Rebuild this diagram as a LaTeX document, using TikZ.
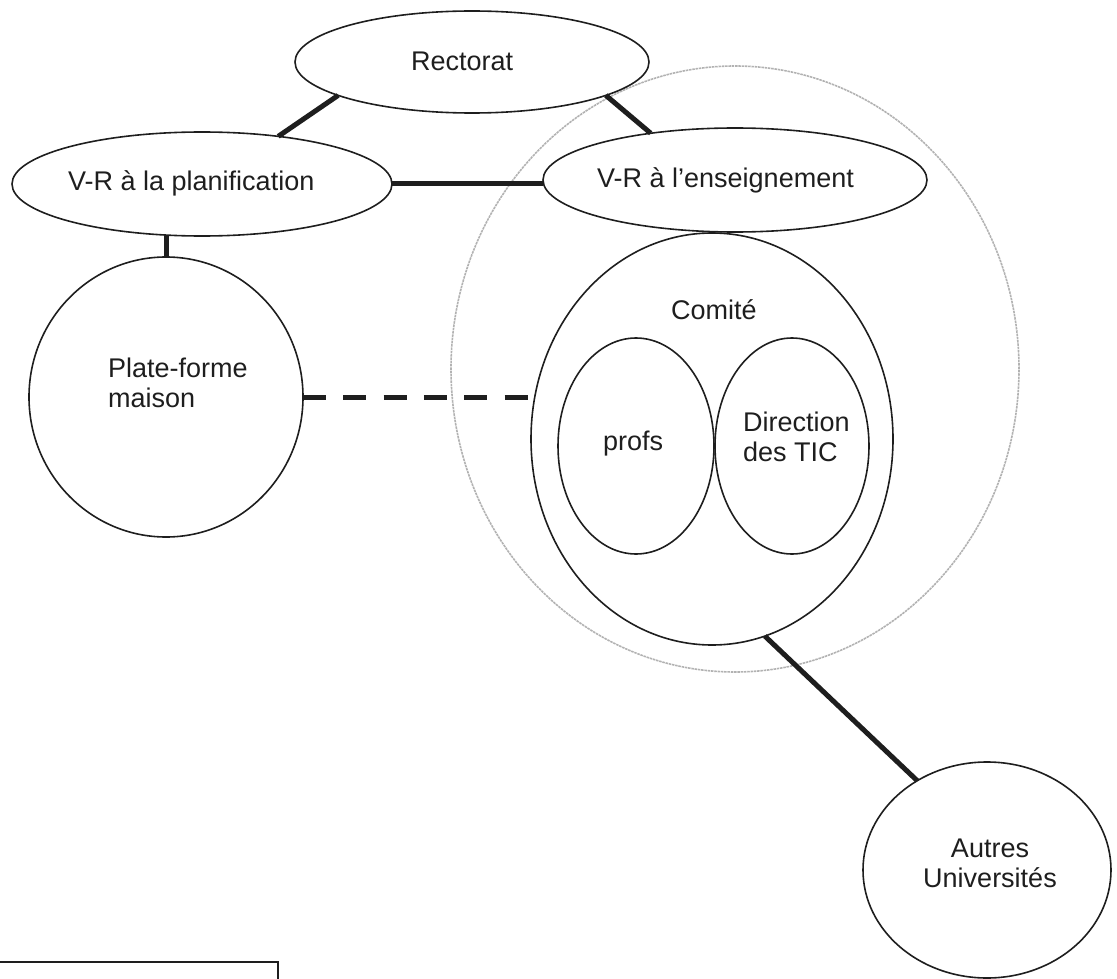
\documentclass[tikz,border=0pt]{standalone}
\usepackage{fontspec}
\setmainfont{Liberation Sans}
\usetikzlibrary{shapes.geometric}
\definecolor{ink}{HTML}{1E1E1E}
\definecolor{haze}{HTML}{B2B2B2}
\begin{document}
\begin{tikzpicture}[x=1pt,y=-1pt,
  oval/.style={ellipse, draw=ink, line width=1.6pt, inner sep=0pt, outer sep=0pt},
  lbl/.style={anchor=base west, inner sep=0pt, text=ink, font=\fontsize{27}{31}\selectfont},
  lblc/.style={lbl, anchor=base},
  link/.style={draw=ink, line width=5pt},
  dlink/.style={link, dash pattern=on 23pt off 17.3pt},
]
\useasboundingbox (0,0) rectangle (1117,979);
\clip (0,0) rectangle (1117,979);
% grey zone
\node[ellipse, draw=haze, line width=1.6pt, dash pattern=on 2.5pt off 0.8pt, minimum width=568pt, minimum height=606pt, inner sep=0pt] (zone) at (735,369) {};
% nodes
\node[oval, minimum width=354pt, minimum height=102pt] (rect) at (472,62) {};
\node[oval, minimum width=380pt, minimum height=104pt] (planif) at (202,184) {};
\node[oval, minimum width=384pt, minimum height=104pt] (ens) at (735,180) {};
\node[oval, minimum width=274pt, minimum height=280pt] (pf) at (166,397) {};
\node[oval, minimum width=362pt, minimum height=412pt] (comite) at (712,439) {};
\node[oval, minimum width=156pt, minimum height=216pt] (profs) at (636,446) {};
\node[oval, minimum width=154pt, minimum height=216pt] (dtic) at (792,446) {};
\node[oval, minimum width=248pt, minimum height=216pt] (autres) at (987,870) {};
% labels
\node[lbl] (tRect) at (411,71) {Rectorat};
\node[lbl] (tPlanif) at (68,190) {V-R à la planification};
\node[lbl] (tEns) at (597,188) {V-R à l'enseignement};
\node[lbl] (tPf1) at (108,377) {Plate-forme};
\node[lbl] (tPf2) at (108,407) {maison};
\node[lbl] (tCom) at (671,319) {Comité};
\node[lbl] (tProfs) at (603,450) {profs};
\node[lbl] (tDir1) at (743,431) {Direction};
\node[lbl] (tDir2) at (743,461) {des TIC};
\node[lblc] (tAut1) at (990,857) {Autres};
\node[lblc] (tAut2) at (990,887) {Universités};
% connectors
\draw[link] (rect.194) -- (planif.32);
\draw[link] (rect.-14.5) -- (ens.151);
\draw[link] (planif.east) -- (planif.east -| ens.west);
\draw[link] (pf.north) -- (pf.north |- planif.south);
\draw[dlink] (pf.east) -- (pf.east -| comite.west);
\draw[link] (comite.-75) -- (autres.128);
% partial frame at bottom left
\draw[draw=ink, line width=1.8pt] (-10,962) -- (278,962) -- (278,995);
\end{tikzpicture}
\end{document}
